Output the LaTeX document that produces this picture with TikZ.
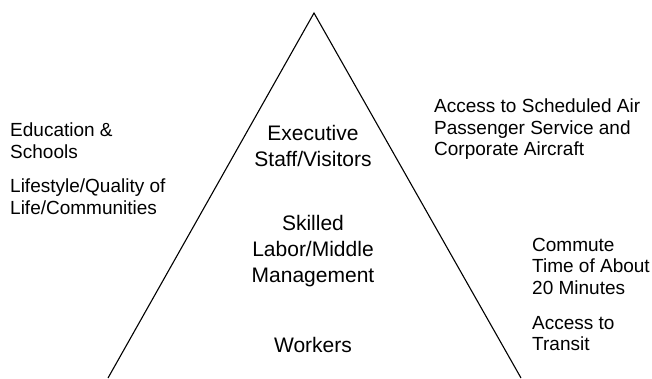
\documentclass[tikz,border=0pt]{standalone}
\usepackage{fontspec}
\setmainfont{Liberation Sans}
\begin{document}
\begin{tikzpicture}[x=1pt,y=-1pt,
  sidetext/.style={inner sep=0pt,align=left,anchor=north west,font=\fontsize{19}{21.5}\selectfont},
  tiertext/.style={inner sep=0pt,align=center,anchor=north,font=\fontsize{21}{26}\selectfont},
  edge/.style={line width=1.1pt,line join=miter}]
\useasboundingbox (0,0) rectangle (652,378);
\coordinate (apex) at (314,13);
\coordinate (bl) at (108,378);
\coordinate (br) at (521,378);
\draw[edge] (bl) -- (apex) -- (br);
% interior tiers
\node[tiertext] (exec) at (313,125) {Executive\\Staff/Visitors};
\node[tiertext] (skill) at (313,215) {Skilled\\Labor/Middle\\Management};
\node[tiertext] (work) at (313,337) {Workers};
% left side
\node[sidetext] (edu) at (10,123) {Education \&\\Schools};
\node[sidetext] (life) at (10,179) {Lifestyle/Quality of\\Life/Communities};
% right side
\node[sidetext] (air) at (434,99) {Access to Scheduled Air\\Passenger Service and\\Corporate Aircraft};
\node[sidetext] (commute) at (532,238) {Commute\\Time of About\\20 Minutes};
\node[sidetext] (transit) at (532,316) {Access to\\Transit};
\end{tikzpicture}
\end{document}
